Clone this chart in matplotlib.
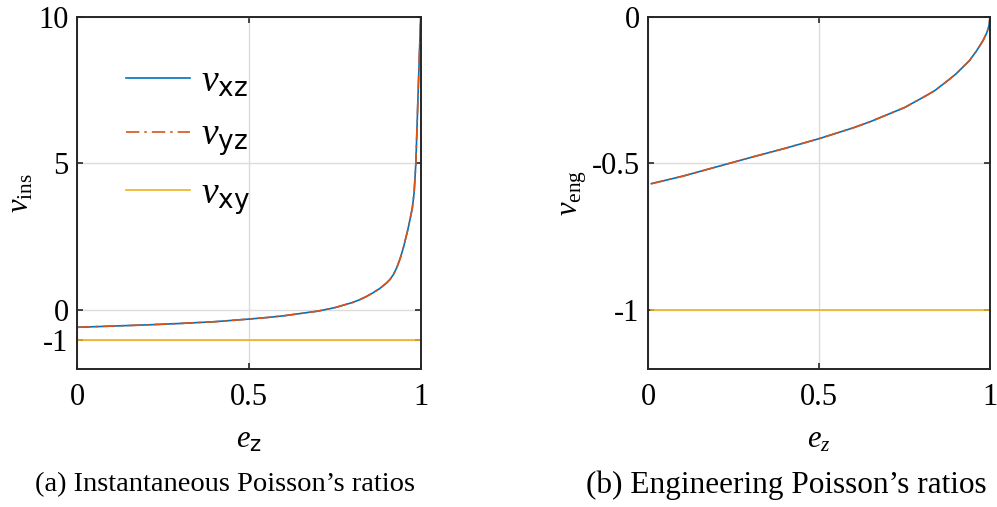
import matplotlib
matplotlib.use("Agg")
import matplotlib.pyplot as plt

plt.rcParams['mathtext.fontset'] = 'custom'
plt.rcParams['mathtext.rm'] = 'Liberation Serif'
plt.rcParams['mathtext.it'] = 'Liberation Serif:italic'
plt.rcParams['mathtext.sf'] = 'DejaVu Sans'
plt.rcParams['font.family'] = ['Liberation Serif', 'DejaVu Sans']

# Instantaneous Poisson's ratios vs. strain e_z
ez_ins = [0.0, 0.1, 0.2, 0.3, 0.4, 0.5, 0.55, 0.6, 0.65, 0.7, 0.75, 0.8,
          0.82, 0.84, 0.86, 0.88, 0.90, 0.91, 0.92, 0.93, 0.94, 0.95, 0.955,
          0.96, 0.965, 0.97, 0.975, 0.98, 0.985, 0.99, 0.995, 0.999]
nu_xz_ins = [-0.58, -0.54, -0.50, -0.45, -0.39, -0.30, -0.25, -0.19, -0.11, -0.03,
             0.09, 0.26, 0.35, 0.46, 0.59, 0.74, 0.93, 1.05, 1.22, 1.46, 1.78,
             2.18, 2.42, 2.66, 2.92, 3.20, 3.50, 4.00, 5.00, 6.80, 8.60, 10.0]
nu_yz_ins = list(nu_xz_ins)
nu_xy_ins = [-1.0] * len(ez_ins)

# Engineering Poisson's ratios vs. strain e_z
ez_eng = [0.01, 0.1, 0.2, 0.3, 0.4, 0.5, 0.6, 0.65, 0.7, 0.75, 0.8, 0.82,
          0.84, 0.86, 0.88, 0.9, 0.92, 0.94, 0.96, 0.97, 0.98, 0.99, 0.995,
          0.998, 1.0]
nu_xz_eng = [-0.569, -0.544, -0.512, -0.480, -0.449, -0.416, -0.379, -0.358,
             -0.334, -0.310, -0.278, -0.265, -0.251, -0.233, -0.215, -0.196,
             -0.173, -0.150, -0.118, -0.100, -0.081, -0.057, -0.040, -0.024, 0.0]
nu_yz_eng = list(nu_xz_eng)
nu_xy_eng = [-1.0] * len(ez_eng)

BLUE = '#0072BD'
ORANGE = '#D95319'
YELLOW = '#EDB120'
FRAME = '#262626'

fig = plt.figure(figsize=(9.97, 5.07), dpi=100)
ax1 = fig.add_axes([77 / 997, 1 - 369 / 507, 344 / 997, 352.5 / 507])
ax2 = fig.add_axes([648 / 997, 1 - 369 / 507, 342 / 997, 352.5 / 507])


def style(ax):
    ax.grid(True, color='#dcdcdc', linewidth=1.0)
    ax.set_axisbelow(True)
    for s in ax.spines.values():
        s.set_color(FRAME)
        s.set_linewidth(1.4)
    ax.tick_params(direction='in', length=4, width=1.2, color=FRAME,
                   top=True, right=True, labelsize=22, labelcolor='black')
    ax.tick_params(axis='x', pad=10)
    ax.tick_params(axis='y', pad=6)


ax1.plot(ez_ins, nu_xz_ins, color=BLUE, lw=1.2, label=r'$\nu_{\mathsf{xz}}$')
ax1.plot(ez_ins, nu_yz_ins, color=ORANGE, lw=1.2, ls=(0, (8, 3, 1.5, 3)),
         label=r'$\nu_{\mathsf{yz}}$')
ax1.plot(ez_ins, nu_xy_ins, color=YELLOW, lw=1.2, label=r'$\nu_{\mathsf{xy}}$')
ax1.set_xlim(0, 1)
ax1.set_ylim(-2, 10)
ax1.set_xticks([0, 0.5, 1])
ax1.set_xticklabels(['0', '0.5', '1'])
ax1.set_yticks([-1, 0, 5, 10])
ax1.set_yticklabels(['-1', '0', '5', '10'])
style(ax1)
ax1.set_xlabel(r'$e_{\mathsf{z}}$', fontsize=22, labelpad=10)
ax1.set_ylabel(r'$\nu_{\mathrm{ins}}$', fontsize=22, labelpad=2)
leg = ax1.legend(loc='upper left', bbox_to_anchor=(0.10, 0.905), frameon=False,
                 fontsize=27, handlelength=1.7, labelspacing=0.5,
                 handletextpad=0.3, borderaxespad=0)

ax2.plot(ez_eng, nu_xz_eng, color=BLUE, lw=1.2)
ax2.plot(ez_eng, nu_yz_eng, color=ORANGE, lw=1.2, ls=(0, (8, 3, 1.5, 3)))
ax2.plot(ez_eng, nu_xy_eng, color=YELLOW, lw=1.2)
ax2.set_xlim(0, 1)
ax2.set_ylim(-1.2, 0)
ax2.set_xticks([0, 0.5, 1])
ax2.set_xticklabels(['0', '0.5', '1'])
ax2.set_yticks([-1, -0.5, 0])
ax2.set_yticklabels(['-1', '-0.5', '0'])
style(ax2)
ax2.set_xlabel(r'$e_z$', fontsize=22, labelpad=10)
ax2.set_ylabel(r'$\nu_{\mathrm{eng}}$', fontsize=22, labelpad=2)

fig.text(225 / 997, 1 - 485 / 507, "(a) Instantaneous Poisson\u2019s ratios",
         ha='center', va='center', fontsize=20.5, family='Liberation Serif')
fig.text(786 / 997, 1 - 485 / 507, "(b) Engineering Poisson\u2019s ratios",
         ha='center', va='center', fontsize=22.5, family='Liberation Serif')

fig.savefig('out.png', dpi=100)
